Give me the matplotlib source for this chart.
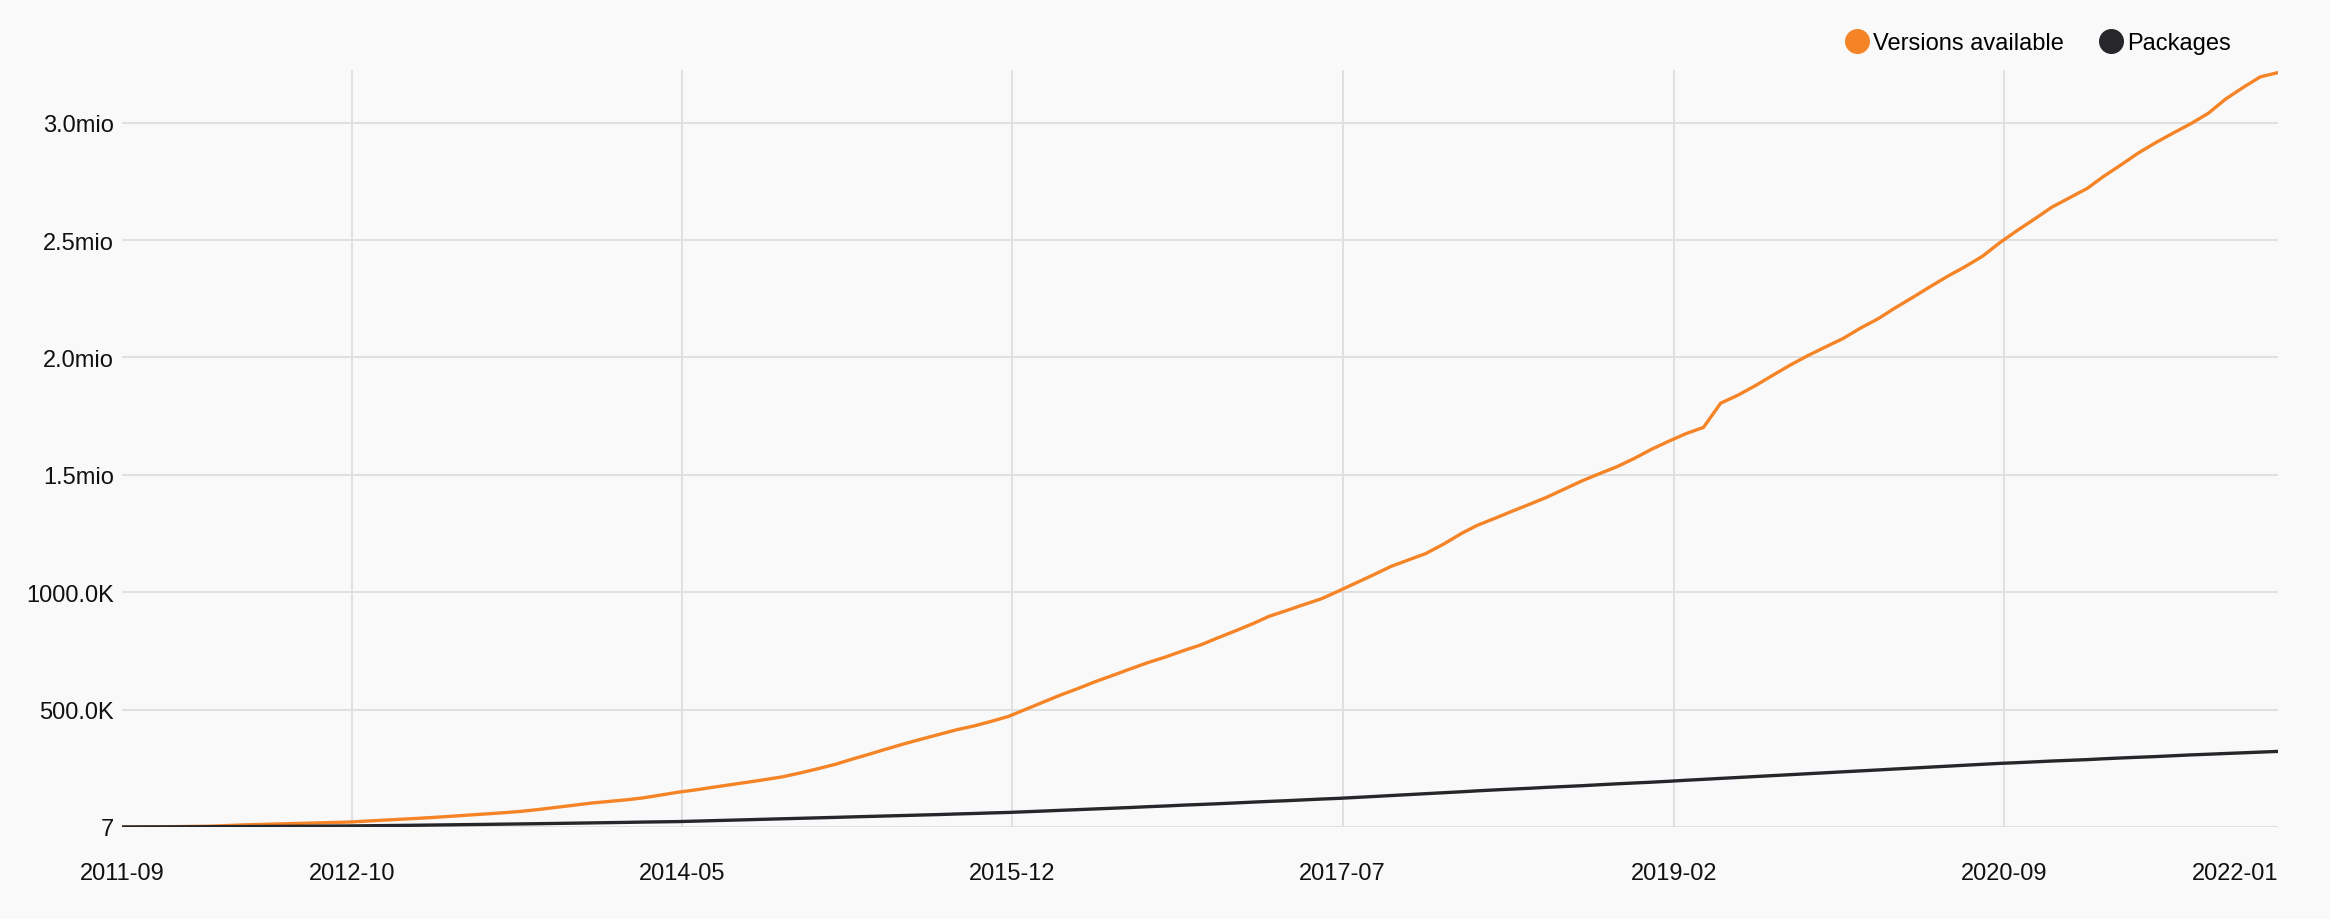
import numpy as np
import pandas as pd
import matplotlib
matplotlib.use('Agg')
import matplotlib.pyplot as plt
from matplotlib.lines import Line2D

plt.rcParams['font.family'] = ['Liberation Sans', 'DejaVu Sans']

# monthly snapshots, 2011-09 .. 2022-01
months = pd.date_range('2011-09-01', '2022-01-01', freq='MS')

# values in thousands
versions_k = [
    0.007, 0.5, 1, 1.5, 2.5, 3.5, 6, 9, 11, 13, 15, 17, 19, 21,
    25, 29, 33, 37, 41, 46, 51, 56, 61, 67, 75, 84, 93, 102,
    109, 116, 124, 136, 148, 158, 169, 180, 191, 202, 214,
    230, 248, 267, 288, 310, 332, 354, 374, 394, 414, 430, 450, 471,
    502, 533, 562, 590, 619, 646, 673, 700, 724, 750, 775,
    805, 835, 866, 897, 922, 947, 972, 1005,
    1040, 1075, 1110, 1138, 1165, 1205, 1250, 1285,
    1315, 1345, 1375, 1405, 1440, 1475, 1505, 1535, 1570, 1610, 1645,
    1675, 1702, 1805, 1840, 1880, 1925, 1969, 2008, 2045,
    2080, 2125, 2165, 2210, 2255, 2300, 2345, 2385, 2430, 2489,
    2540, 2590, 2640, 2680, 2720, 2770, 2820, 2870, 2915, 2955,
    2995, 3040, 3100, 3150, 3195, 3213,
]
packages_k = [
    0.007, 0.2, 0.4, 0.6, 0.9, 1.2, 1.5, 1.9, 2.3, 2.7, 3.1, 3.5, 4, 4.5,
    5.2, 6, 6.8, 7.6, 8.5, 9.4, 10.3, 11.2, 12.2, 13.2, 14.2, 15.3, 16.4,
    17.5, 18.6, 19.8, 21, 22, 23,
    25, 27, 29, 31, 33, 35, 37, 39, 41, 43, 45, 47, 49, 51, 53, 55.5,
    57.5, 60, 62,
    65, 68, 71, 74, 77, 80, 83, 86.5, 89.5, 93, 96, 99, 102.5, 106, 109,
    112, 115.5, 119, 122,
    126, 130, 134, 138, 142, 146,
    150, 154, 158, 161.5, 165, 169, 172.5, 176, 180, 184, 187.5, 191, 195,
    199, 203, 207, 211, 215, 219, 223, 227, 231, 235, 239, 243, 247, 251,
    255, 259, 263, 267, 271,
    274, 277.5, 281, 284, 287, 290.5, 294, 297, 300, 303.5, 307, 310, 313,
    316, 319, 322,
]

y_ticks = [7, 500000, 1000000, 1500000, 2000000, 2500000, 3000000]
y_labels = ['7', '500.0K', '1000.0K', '1.5mio', '2.0mio', '2.5mio', '3.0mio']
x_ticks = ['2011-09', '2012-10', '2014-05', '2015-12', '2017-07',
           '2019-02', '2020-09', '2022-01']

orange = '#f58427'
dark = '#27272b'
bg = '#f9f9f9'

versions = np.array(versions_k) * 1000
packages = np.array(packages_k) * 1000

fig = plt.figure(figsize=(23.3, 9.2), dpi=100, facecolor=bg)
ax = fig.add_axes([0.0524, 0.1, 0.9253, 0.8228])
ax.set_facecolor(bg)

ax.plot(months, versions, color=orange, lw=2.4, solid_joinstyle='round')
ax.plot(months, packages, color=dark, lw=2.4, solid_joinstyle='round')

ax.set_xlim(months[0], months[-1])
ax.set_ylim(7, 3224000)

ax.set_yticks(y_ticks, y_labels)
# inner ticks sit a little after the month start; first/last mark the axis ends
tick_dates = [months[0]]
tick_dates += [pd.Timestamp(t + '-08') for t in x_ticks[1:-1]]
tick_dates += [months[-1]]
ax.set_xticks(tick_dates, x_ticks)
xl = ax.get_xticklabels()
xl[-1].set_horizontalalignment('right')

# horizontal grid lines on every y tick, vertical only on inner x ticks
ax.grid(axis='y', color='#e0e0e0', lw=1.4)
for d in tick_dates[1:-1]:
    ax.axvline(d, color='#e0e0e0', lw=1.4, zorder=0.5)
ax.set_axisbelow(True)

for s in ax.spines.values():
    s.set_visible(False)
ax.tick_params(axis='both', length=0, labelsize=17, colors='#111111')
ax.tick_params(axis='x', pad=25)
ax.tick_params(axis='y', pad=6)

handles = [
    Line2D([], [], ls='none', marker='o', ms=17, color=orange,
           label='Versions available'),
    Line2D([], [], ls='none', marker='o', ms=17, color=dark,
           label='Packages'),
]
fig.legend(handles=handles, loc='center right',
           bbox_to_anchor=(0.9575, 0.952), ncol=2, frameon=False,
           fontsize=17, handlelength=1.0, handletextpad=0.17,
           columnspacing=1.5, borderpad=0, borderaxespad=0)

fig.savefig('out.png', dpi=100, facecolor=bg)
